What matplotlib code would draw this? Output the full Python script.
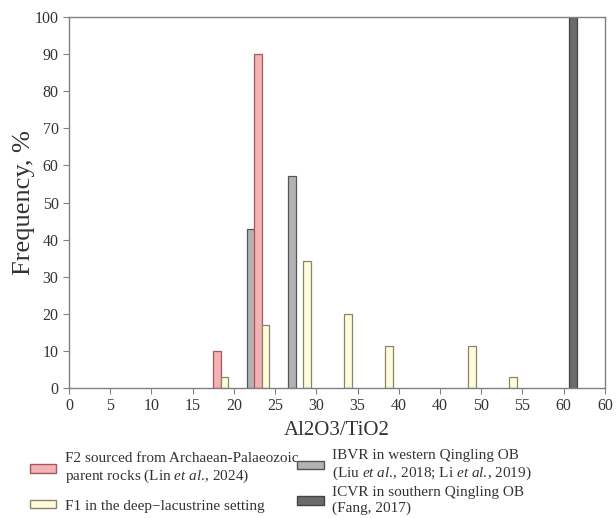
import matplotlib
matplotlib.use('Agg')
import matplotlib.pyplot as plt
from matplotlib.patches import Patch

plt.rcParams['font.family'] = ['Liberation Serif', 'DejaVu Serif']
plt.rcParams['mathtext.fontset'] = 'custom'
plt.rcParams['mathtext.rm'] = 'Liberation Serif'
plt.rcParams['mathtext.it'] = 'Liberation Serif:italic'

# ── data (bar centres on the Al2O3/TiO2 axis, frequency in %) ──
f2_x   = [17.95, 22.95]
f2_y   = [10.0, 90.0]
f1_x   = [18.85, 23.85, 28.85, 33.85, 38.8, 48.85, 53.85]
f1_y   = [2.9, 17.1, 34.3, 20.0, 11.4, 11.4, 2.9]
ibvr_x = [22.05, 27.05]
ibvr_y = [42.9, 57.1]
icvr_x = [61.1]
icvr_y = [100.0]

xtick_pos    = [0, 5, 10, 15, 20, 25, 30, 35, 40, 45, 50, 55, 60, 65]
xtick_labels = ['0', '5', '10', '15', '20', '25', '30', '35', '40', '40',
                '50', '55', '60', '60']
yticks = list(range(0, 101, 10))

c_f2   = ('#F3B2B3', '#A9555C')
c_f1   = ('#FFFCDD', '#8C8466')
c_ibvr = ('#B3B3B3', '#555555')
c_icvr = ('#6B6B6B', '#444444')

fig = plt.figure(figsize=(6.16, 5.18), dpi=100)
ax = fig.add_axes([0.112, 0.251, 0.870, 0.716])

w = 0.92
ax.bar(ibvr_x, ibvr_y, w, color=c_ibvr[0], edgecolor=c_ibvr[1], linewidth=0.9, zorder=2)
ax.bar(f2_x, f2_y, w, color=c_f2[0], edgecolor=c_f2[1], linewidth=0.9, zorder=2)
ax.bar(f1_x, f1_y, w, color=c_f1[0], edgecolor=c_f1[1], linewidth=0.9, zorder=2)
ax.bar(icvr_x, icvr_y, w, color=c_icvr[0], edgecolor=c_icvr[1], linewidth=0.9, zorder=2)

ax.set_xlim(0, 65)
ax.set_ylim(0, 100)
ax.set_xticks(xtick_pos)
ax.set_xticklabels(xtick_labels)
ax.set_yticks(yticks)

for s in ax.spines.values():
    s.set_color('#808080')
    s.set_linewidth(1.0)
ax.tick_params(direction='out', length=4, color='#808080', labelcolor='#333333',
               labelsize=11.5)

ax.set_ylabel('Frequency, %', fontsize=19, color='#333333', labelpad=0)
ax.set_xlabel('Al2O3/TiO2', fontsize=15, color='#333333', labelpad=5)

# legend: two separate columns so the rows can be spaced like the original
etal = '$\\it{et\\ al.}\\!$'
left_handles = [
    Patch(facecolor=c_f2[0], edgecolor=c_f2[1],
          label='F2 sourced from Archaean-Palaeozoic\nparent rocks (Lin ' + etal + ', 2024)'),
    Patch(facecolor=c_f1[0], edgecolor=c_f1[1],
          label='F1 in the deep\u2212lacustrine setting'),
]
right_handles = [
    Patch(facecolor=c_ibvr[0], edgecolor=c_ibvr[1],
          label='IBVR in western Qingling OB\n(Liu ' + etal + ', 2018; Li ' + etal + ', 2019)'),
    Patch(facecolor=c_icvr[0], edgecolor=c_icvr[1],
          label='ICVR in southern Qingling OB\n(Fang, 2017)'),
]
leg_kw = dict(loc='upper left', frameon=False, fontsize=11, handlelength=1.75,
              handleheight=0.5, handletextpad=0.55, borderaxespad=0, borderpad=0)
leg1 = fig.legend(handles=left_handles, bbox_to_anchor=(0.048, 0.127),
                  labelspacing=0.95, **leg_kw)
leg2 = fig.legend(handles=right_handles, bbox_to_anchor=(0.482, 0.133),
                  labelspacing=0.3, **leg_kw)
for leg in (leg1, leg2):
    for t in leg.get_texts():
        t.set_color('#333333')

fig.savefig('out.png', dpi=100)
